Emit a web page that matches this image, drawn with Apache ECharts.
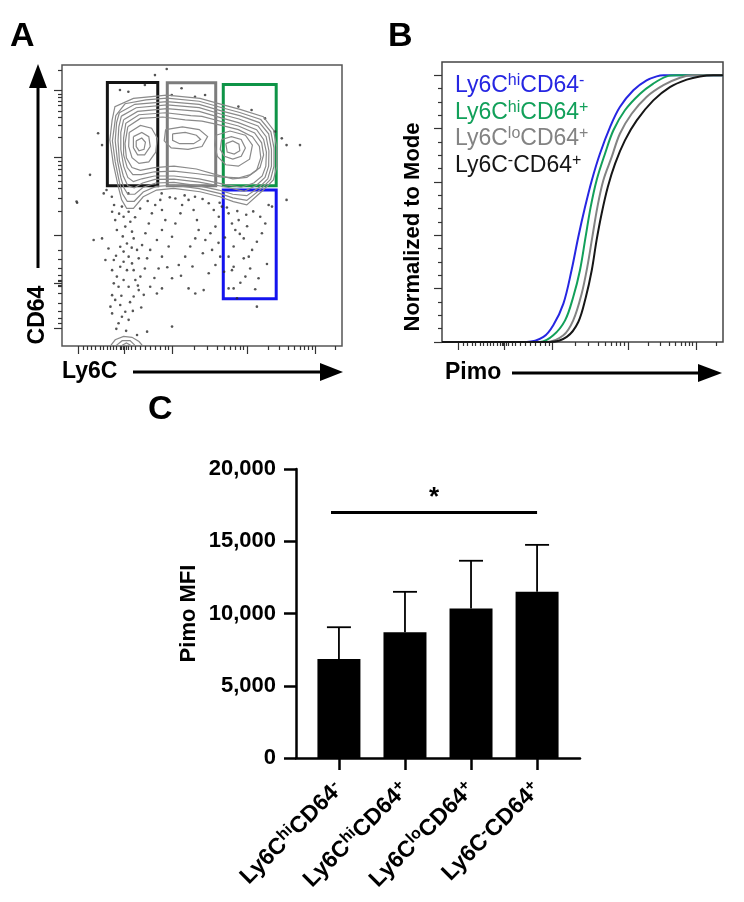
<!DOCTYPE html>
<html>
<head>
<meta charset="utf-8">
<script src="https://cdn.jsdelivr.net/npm/echarts@6/dist/echarts.min.js"></script>
<style>
  html, body { margin: 0; padding: 0; background: #fff; }
  #chart { width: 744px; height: 902px; }
</style>
</head>
<body>
<div id="chart"></div>
<script>
// population names split as [base, superscript, base, superscript]
const populations = [
  ['Ly6C', 'hi', 'CD64', '-'],
  ['Ly6C', 'hi', 'CD64', '+'],
  ['Ly6C', 'lo', 'CD64', '+'],
  ['Ly6C', '-', 'CD64', '+']
];

// ---- panel A: Ly6C vs CD64 (axis units 0-100) ----
const contours = [
  [[17.9,80.4],[18.9,85.2],[25.5,88.1],[37.4,89.3],[49.3,88.1],[57.6,85.8],[63.6,84.2],[71.9,81.6],[75.5,76.9],[76.7,70.9],[76.7,63.8],[75.5,59.1],[71.9,55.5],[66.0,50.2],[61.2,51.4],[56.4,53.1],[49.3,54.9],[39.8,56.1],[33.8,55.5],[29.0,53.1],[25.5,49.0],[23.1,49.0],[21.3,52.0],[20.1,56.7],[18.3,65.0],[17.1,73.3],[17.9,80.4]],
  [[19.2,82],[22.5,86.2],[30,87.6],[37.5,88.2],[49,87.1],[57.5,84.7],[63.5,83.1],[71,80.6],[74.6,76.2],[75.7,70.5],[75.7,64],[74.5,59.3],[71.2,56],[66,51.8],[61,52.7],[56.2,54.3],[49,56],[40,57.2],[33.6,56.8],[29,54.8],[25.8,51.5],[23.3,51.5],[21.6,54.2],[20.5,58.3],[19,65.5],[18,73],[19.2,82]],
  [[20.5,83],[26,86],[37.5,87],[49,86],[57.5,83.5],[63.5,82],[70.5,79.5],[73.8,75.5],[74.8,70],[74.8,64],[73.5,59.5],[70.5,56.5],[66,53.5],[61,54],[56,55.5],[49,57],[40,58.2],[33.5,58],[29,56.5],[26,54],[23.5,54],[22,56.5],[21,60],[19.8,66],[19,73],[19.5,79.5],[20.5,83]],
  [[21.2,81.8],[26.5,84.8],[37.5,85.8],[49,84.8],[57.5,82.3],[63.2,80.8],[70,78.3],[72.9,74.5],[73.9,69.5],[73.8,64],[72.5,60],[69.5,57.2],[65,55],[59,56.5],[49,58.3],[40,59.4],[33.2,59.3],[28.8,58],[25.8,56.3],[23.5,57],[21.9,60.5],[20.5,66],[20,73],[20.3,78],[21.2,81.8]],
  [[22,80.5],[27,83.5],[37.5,84.5],[49,83.5],[57.5,81],[63,79.5],[69.5,77],[72,73.5],[73,69],[72.8,64],[71.5,60.5],[68.5,58],[64,56.5],[58,57.5],[49,59.5],[40,60.5],[33,60.5],[28.5,59.5],[25.5,58.5],[23.5,60],[22,64],[21,70],[21,76],[22,80.5]],
  [[22.8,79.3],[27.5,82.3],[37,83],[46,82],[50,81.7],[57.2,79.8],[63,78.3],[68.8,75.8],[71.3,72.3],[72,68],[70.7,63.5],[67.3,61],[63,59.8],[56.5,60.2],[48.5,61.3],[40,62.2],[33,62],[28.3,61],[25.3,61],[23.3,63.5],[22,68],[22,74],[22.8,79.3]],
  [[23.5,78],[28,81],[36,81.5],[44,80.5],[50,80],[57,78.5],[63,77],[68,74.5],[70.5,71],[71,67],[69.5,62.5],[66,60],[61,59.5],[55,61],[48,63],[40,64],[33,63.5],[28,62.5],[25,63.5],[23,67],[22.5,72],[23.5,78]],
  [[24,76],[28,78.5],[32,77.5],[34,74],[33.5,69],[31,65.5],[27.5,65],[25,67],[23.8,71],[24,76]],
  [[37,77],[43,78],[49,77],[52,74.5],[50,71],[45,70],[39,70.5],[36.5,73],[37,77]],
  [[55,75],[60,76.5],[65.5,75],[68,71.5],[67,66.5],[63,64],[58.5,64.5],[55.5,67.5],[54.5,71.5],[55,75]],
  [[25.5,74.5],[28.5,76],[31,74.5],[31.5,71],[29.5,68],[27,68],[25.5,70.5],[25.5,74.5]],
  [[39.5,75.5],[44,76],[48,75],[49.5,73.5],[47,72],[42,72],[39.5,73.2],[39.5,75.5]],
  [[57,73.5],[60.5,74.5],[64,73.5],[65.5,70.5],[64,67.5],[61,66.5],[58,67.5],[56.5,70],[57,73.5]],
  [[26.5,73],[28.5,74],[29.8,72.5],[29.3,70],[27.5,69.5],[26.5,71],[26.5,73]],
  [[58.5,72],[61,73],[63.2,71.8],[63.5,69.5],[61.5,68.3],[59,69],[58.5,72]],
  [[17.5,0.3],[19,2.2],[22,3.4],[25,3.1],[27.5,1.6],[28.6,0.3]],
  [[19.5,0.3],[21.5,1.9],[24.3,1.9],[26,0.3]],
  [[21.5,0.3],[23,1.1],[24.5,0.3]]
];

const cellDots = [
  [5.4,51.0],[14.9,54.3],[17.9,47.8],[19.0,44.8],[19.6,41.3],[21.4,49.6],[22.0,46.0],[22.6,42.5],[23.8,47.8],[24.4,44.2],
  [25.0,40.7],[25.6,38.3],[23.2,36.5],[20.8,35.3],[22.0,33.6],[23.8,31.8],[25.0,29.4],[22.0,30.0],[20.8,28.2],[23.2,27.0],
  [25.6,27.0],[27.4,31.2],[26.8,34.2],[28.6,35.9],[29.8,40.1],[31.0,43.6],[32.1,47.2],[33.3,50.2],[35.1,52.0],[35.7,48.4],
  [36.9,44.8],[35.7,41.3],[33.9,37.7],[31.5,34.2],[30.4,31.2],[28.0,24.7],[26.2,23.5],[23.8,21.1],[22.0,23.5],[20.2,21.1],
  [18.5,22.3],[17.9,18.1],[19.0,16.4],[20.8,14.6],[22.6,12.2],[21.4,10.4],[23.8,9.3],[20.2,8.1],[17.9,11.6],[17.3,14.0],
  [25.6,17.6],[27.4,19.9],[29.2,18.2],[31.5,21.1],[33.9,18.7],[34.5,27.6],[35.7,31.8],[38.1,35.4],[39.3,38.9],[40.5,43.6],
  [42.3,47.2],[42.9,50.2],[45.2,52.0],[47.0,48.4],[48.2,44.8],[48.8,41.3],[47.6,38.3],[45.8,35.4],[44.0,31.8],[41.7,28.8],
  [39.3,24.1],[35.7,20.5],[45.2,20.5],[47.6,18.7],[50.6,19.9],[52.4,25.9],[54.8,28.8],[56.5,31.8],[53.6,34.2],[51.2,37.7],
  [53.0,40.1],[54.8,42.5],[56.0,46.0],[54.2,48.4],[52.4,50.8],[57.1,49.6],[59.5,47.2],[60.7,43.6],[61.9,41.3],[63.1,44.8],
  [64.9,38.3],[61.3,35.4],[59.5,31.8],[61.3,28.2],[64.9,31.2],[66.7,31.8],[67.9,34.2],[69.6,37.1],[71.4,40.1],[72.6,43.6],
  [70.8,46.0],[73.8,50.2],[75.0,49.6],[70.2,24.1],[65.5,24.7],[60.7,27.0],[59.5,20.5],[61.3,20.5],[69.0,20.2],[69.6,14.0],
  [39.3,6.9],[30.4,5.1],[26.8,3.9],[11.3,37.7],[14.3,38.3],[15.5,30.6],[17.9,27.0],[19.6,24.7],
  [37.4,98.6],[33.2,96.4],[20.7,91.1],[23.7,90.5],[29.6,92.9],[39.2,89.3],[42.7,91.7],[47.5,88.7],[51.1,89.3],[63.0,85.2],
  [67.7,84.0],[72.5,81.0],[78.5,73.9],[80.2,71.5],[76.1,76.3],[12.9,75.7],[14.3,71.5],[15.9,55.5],[17.8,53.1],[23.7,54.3],
  [35.6,54.3],[40.5,52.5],[47.5,53.1],[85.0,71.5],[80.2,52.0],[10.0,60.9],[5.2,51.4],
  [18.6,50.2],[20.4,47.1],[21.7,39.0],[24.9,35.0],[19.3,32.1],[26.1,45.8],[27.9,48.9],[30.6,51.6],[38.5,52.9],[43.8,53.6],
  [50.2,52.3],[56.3,51.0],[58.9,49.3],[62.6,48.0],[65.8,46.7],[68.3,47.9],[66.1,42.6],[63.5,39.9],[58.2,38.6],[55.9,36.7],
  [50.3,33.0],[46.6,28.3],[42.5,25.0],[37.6,28.0],[33.0,24.2],[29.6,27.6],[27.1,21.5],[24.3,15.6],[21.2,17.9],[19.4,6.1],
  [22.9,5.4],[25.3,12.5],[28.3,13.7],[18.5,30.6],[16.6,34.7],[57.9,26.4],[63.7,22.5],[67.2,27.6],[73.2,29.2],[62.5,17.0]
];

// gates: [x1, yTop, x2, yBottom]
const gates = [
  [16.2, 93.8, 34.2, 57.0],
  [37.6, 93.7, 54.9, 57.0],
  [57.6, 93.1, 76.5, 57.0],
  [57.6, 55.5, 76.5, 16.8]
];
const gateColors = ['#141414', '#7c7c7c', '#0e9447', '#1414ee'];

// log-style ticks shared by the Ly6C and Pimo axes
const logMajor = [5.8, 22.3, 39.2, 66.2, 90.4];
const logMinor = [7.6, 9.0, 10.6, 12.0, 13.6, 14.8, 16.0, 17.1, 18.3, 19.5, 20.7, 21.3, 21.9, 22.9, 23.7, 24.9, 26.1, 27.9,
  29.6, 31.4, 33.2, 35.0, 36.8, 38.0, 47.3, 52.0, 55.5, 58.1, 60.2, 62.0, 63.6, 64.9, 73.5, 77.7, 80.7, 83.1, 85.0, 86.5,
  88.0, 89.2, 97.6];
const cd64Major = [6.3, 22.3, 39.5, 67.0, 90.9];
const cd64Minor = [8.2, 9.9, 12.3, 15.2, 18.8, 21.2, 21.7, 22.9, 23.5, 25.3, 27.7, 30.7, 34.2, 47.8, 52.7, 56.1, 58.7, 60.9,
  62.8, 64.3, 65.7, 74.3, 78.4, 81.4, 83.6, 85.5, 87.2, 88.5, 89.7, 98.1];

// ---- panel B: cumulative Pimo (% of mode) ----
const curveBlue = [[0,0],[30.1,0],[36.1,1.9],[39.6,6.3],[43.2,14.4],[46.1,26.9],[48.5,39.4],[50.9,50.6],[53.3,60.6],[56.2,70.6],[59.8,80.6],[63.3,88.1],[68.1,94.4],[72.8,98.1],[76.4,99.6],[78.8,100],[100,100]];
const curveGreen = [[0,0],[34.9,0],[39.6,2.5],[43.8,8.1],[46.7,16.9],[49.1,26.9],[51.1,39.4],[52.9,50.6],[55.0,60.6],[58.0,70.6],[61.0,79.4],[65.1,86.9],[70.5,93.1],[75.2,96.9],[80.0,99.6],[83.5,100],[100,100]];
const curveGray = [[0,0],[37.2,0],[43.2,2.5],[46.7,8.1],[49.7,18.1],[51.7,28.1],[53.5,39.4],[55.3,50.6],[57.4,60.6],[60.4,69.4],[63.3,78.1],[67.5,85.6],[72.8,91.9],[78.8,96.3],[84.7,99.1],[89.4,100],[100,100]];
const curveBlack = [[0,0],[38.4,0],[44.4,1.9],[48.5,7.5],[51.2,16.9],[53.3,26.9],[55.0,38.1],[56.8,48.1],[59.0,58.1],[61.6,66.9],[65.1,75.6],[69.3,83.1],[75.2,90.6],[81.1,95.6],[87.1,98.4],[91.8,99.6],[96.6,100],[100,100]];
const modeMajor = [0, 20, 40, 60, 80, 100];
const modeMinor = [5, 10, 15, 25, 30, 35, 45, 50, 55, 65, 70, 75, 85, 90, 95];

// ---- panel C: Pimo MFI ----
const barPos = [1, 2, 3, 4];
const mfiMean = [6850, 8700, 10350, 11500];
const mfiSd = [2200, 2800, 3300, 3250];
const sigFrom = 0.88, sigTo = 4, sigLevel = 17000, sigMark = '*';

const FONT = '"Liberation Sans", Arial, Helvetica, sans-serif';
const curveColors = ['#2626e2', '#12a05a', '#838383', '#161616'];
const curveData = [curveBlue, curveGreen, curveGray, curveBlack];

const plainName = p => p.join('');
const richName = p => p[0] + '{sup|' + p[1] + '}' + p[2] + '{sup|' + p[3] + '}';

function tickAxis(grid, pos, values, len, extra) {
  return Object.assign({
    type: 'value', gridIndex: grid, position: pos, min: 0, max: 100,
    axisLine: { show: false, onZero: false },
    axisTick: { show: true, customValues: values, length: len, lineStyle: { color: '#333', width: 1.2 } },
    axisLabel: { show: false },
    splitLine: { show: false }
  }, extra || {});
}

const chart = echarts.init(document.getElementById('chart'), null, { renderer: 'canvas' });

const series = [];
// A
series.push({
  type: 'scatter', xAxisIndex: 0, yAxisIndex: 0, data: cellDots,
  symbolSize: 2.6, itemStyle: { color: '#2a2a2a' }, silent: true, z: 2
});
series.push({
  type: 'lines', coordinateSystem: 'cartesian2d', xAxisIndex: 0, yAxisIndex: 0, polyline: true,
  data: contours.map(c => ({ coords: c })),
  lineStyle: { color: '#8a8a8a', width: 1.2, opacity: 1 }, silent: true, z: 3,
  markArea: {
    silent: true,
    itemStyle: { color: 'rgba(0,0,0,0)', borderWidth: 3 },
    data: gates.map((g, i) => [
      { coord: [g[0], g[1]], itemStyle: { borderColor: gateColors[i] } },
      { coord: [g[2], g[3]] }
    ])
  }
});
// B
populations.forEach((p, i) => {
  series.push({
    name: plainName(p), type: 'line', xAxisIndex: 2, yAxisIndex: 2, data: curveData[i],
    showSymbol: false, smooth: 0.35, silent: true,
    lineStyle: { color: curveColors[i], width: 2 }, itemStyle: { color: curveColors[i] }
  });
});
// C
series.push({
  type: 'bar', xAxisIndex: 4, yAxisIndex: 4, barWidth: 43,
  data: barPos.map((x, i) => [x, mfiMean[i]]),
  itemStyle: { color: '#000' }, silent: true,
  markLine: {
    silent: true, symbol: 'none',
    lineStyle: { color: '#000', width: 3, type: 'solid' },
    label: { show: true, position: 'middle', formatter: sigMark, color: '#000', fontSize: 26, fontWeight: 'bold', fontFamily: FONT, distance: 2 },
    data: [[{ coord: [sigFrom, sigLevel] }, { coord: [sigTo, sigLevel] }]]
  }
});
series.push({
  type: 'custom', xAxisIndex: 4, yAxisIndex: 4, silent: true, z: 5,
  data: barPos.map((x, i) => [x, mfiMean[i], mfiMean[i] + mfiSd[i]]),
  renderItem: function (params, api) {
    const base = api.coord([api.value(0), api.value(1)]);
    const top = api.coord([api.value(0), api.value(2)]);
    const st = { stroke: '#000', lineWidth: 1.8 };
    return {
      type: 'group',
      children: [
        { type: 'line', shape: { x1: base[0], y1: base[1], x2: top[0], y2: top[1] }, style: st },
        { type: 'line', shape: { x1: top[0] - 12, y1: top[1], x2: top[0] + 12, y2: top[1] }, style: st }
      ]
    };
  }
});

const arrowStyle = { stroke: '#000', lineWidth: 3 };
const axisFont = 'bold 23px ' + FONT;

chart.setOption({
  animation: false,
  backgroundColor: '#fff',
  grid: [
    { left: 62, top: 65, width: 280, height: 281, show: true, borderColor: '#555', borderWidth: 1.5 },
    { left: 442, top: 62, width: 281, height: 280, show: true, borderColor: '#444', borderWidth: 1.5 },
    { left: 296, top: 469, width: 284, height: 289 }
  ],
  xAxis: [
    tickAxis(0, 'bottom', logMajor, 8),
    tickAxis(0, 'bottom', logMinor, 4),
    tickAxis(1, 'bottom', logMajor, 8),
    tickAxis(1, 'bottom', logMinor, 4),
    {
      type: 'value', gridIndex: 2, position: 'bottom', min: 0.35, max: 4.65,
      axisLine: { show: true, onZero: false, lineStyle: { color: '#000', width: 2.5 } },
      axisTick: { show: true, customValues: barPos, length: 12, lineStyle: { color: '#000', width: 2.5 } },
      axisLabel: {
        customValues: barPos, rotate: 45, margin: 28, color: '#000',
        fontSize: 23, fontWeight: 'bold', fontFamily: FONT,
        formatter: v => richName(populations[Math.round(v) - 1]),
        rich: { sup: { fontSize: 16, fontWeight: 'bold', fontFamily: FONT, padding: [0, 0, 10, 0] } }
      },
      splitLine: { show: false }
    }
  ],
  yAxis: [
    tickAxis(0, 'left', cd64Major, 8),
    tickAxis(0, 'left', cd64Minor, 4),
    tickAxis(1, 'left', modeMajor, 8, { max: 105 }),
    tickAxis(1, 'left', modeMinor, 4, { max: 105 }),
    {
      type: 'value', gridIndex: 2, position: 'left', min: 0, max: 20000, interval: 5000,
      axisLine: { show: true, lineStyle: { color: '#000', width: 2.5 } },
      axisTick: { show: true, length: 12, lineStyle: { color: '#000', width: 2.5 } },
      axisLabel: {
        margin: 20, color: '#000', fontSize: 22, fontWeight: 'bold', fontFamily: FONT,
        formatter: v => v.toLocaleString('en-US')
      },
      splitLine: { show: false },
      name: 'Pimo MFI', nameLocation: 'middle', nameGap: 96,
      nameTextStyle: { color: '#000', fontSize: 22, fontWeight: 'bold', fontFamily: FONT }
    }
  ],
  legend: {
    orient: 'vertical', left: 445, top: 68, itemGap: 2, itemWidth: 0, itemHeight: 0, icon: 'none',
    selectedMode: false,
    data: populations.map((p, i) => ({ name: plainName(p), textStyle: { color: curveColors[i] } })),
    formatter: name => richName(populations.find(p => plainName(p) === name)),
    textStyle: {
      fontSize: 23, fontFamily: FONT,
      rich: { sup: { fontSize: 16, fontFamily: FONT, padding: [0, 0, 10, 0] } }
    }
  },
  series: series,
  graphic: [
    { type: 'text', x: 10, y: 20, style: { text: 'A', font: 'bold 34px ' + FONT, fill: '#000' } },
    { type: 'text', x: 388, y: 20, style: { text: 'B', font: 'bold 34px ' + FONT, fill: '#000' } },
    { type: 'text', x: 148, y: 393, style: { text: 'C', font: 'bold 34px ' + FONT, fill: '#000' } },
    // panel A axes
    { type: 'line', shape: { x1: 38, y1: 86, x2: 38, y2: 268 }, style: arrowStyle },
    { type: 'polygon', shape: { points: [[38, 64], [29, 88], [47, 88]] }, style: { fill: '#000' } },
    { type: 'text', x: 38, y: 315, rotation: Math.PI / 2, style: { text: 'CD64', font: axisFont, fill: '#000', align: 'center', verticalAlign: 'middle' } },
    { type: 'text', x: 62, y: 372, style: { text: 'Ly6C', font: axisFont, fill: '#000', align: 'left', verticalAlign: 'middle' } },
    { type: 'line', shape: { x1: 133, y1: 372, x2: 322, y2: 372 }, style: arrowStyle },
    { type: 'polygon', shape: { points: [[343, 372], [320, 363], [320, 381]] }, style: { fill: '#000' } },
    // panel B axes
    { type: 'text', x: 413, y: 227, rotation: Math.PI / 2, style: { text: 'Normalized to Mode', font: 'bold 22px ' + FONT, fill: '#000', align: 'center', verticalAlign: 'middle' } },
    { type: 'text', x: 445, y: 373, style: { text: 'Pimo', font: axisFont, fill: '#000', align: 'left', verticalAlign: 'middle' } },
    { type: 'line', shape: { x1: 512, y1: 373, x2: 700, y2: 373 }, style: arrowStyle },
    { type: 'polygon', shape: { points: [[722, 373], [698, 364], [698, 382]] }, style: { fill: '#000' } }
  ]
});
</script>
</body>
</html>
